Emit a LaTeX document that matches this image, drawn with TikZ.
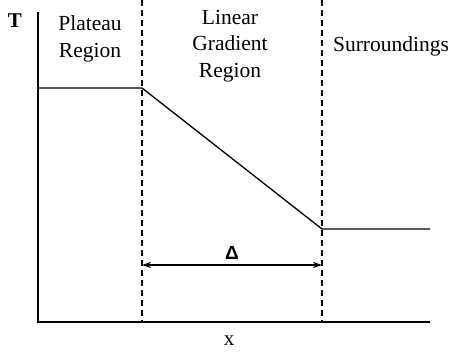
\documentclass[tikz,border=0pt]{standalone}
\usepackage{fontspec}
\setmainfont{Liberation Serif}
\newfontfamily\symfont{Liberation Sans}
\usetikzlibrary{arrows.meta}
\begin{document}
\begin{tikzpicture}[x=1pt,y=-1pt,
  lbl/.style={align=center,font=\fontsize{21.5}{26.5}\selectfont,inner sep=0pt},
  ln/.style={line width=1.3pt},
  dsh/.style={line width=1.3pt,dash pattern=on 6pt off 4pt}]
\useasboundingbox (0,0) rectangle (452,356);
\coordinate (top) at (38,12);
\coordinate (origin) at (38,322);
\coordinate (xend) at (430,322);
\coordinate (d1t) at (142,0);
\coordinate (d1b) at (142,322);
\coordinate (d2t) at (322,0);
\coordinate (d2b) at (322,322);
\coordinate (p0) at (38,88);
\coordinate (p1) at (142,88);
\coordinate (p2) at (322,229);
\coordinate (p3) at (430,229);
\coordinate (a1) at (142,265);
\coordinate (a2) at (322,265);
\draw[ln] (top) -- (origin) -- (xend);
\draw[dsh] (d1t) -- (d1b);
\draw[dsh] (d2t) -- (d2b);
\draw[ln] (p0) -- (p1) -- (p2) -- (p3);
\draw[ln,{Stealth[length=9pt,width=6pt]}-{Stealth[length=9pt,width=6pt]}] (a1) -- (a2);
\node[font=\fontsize{21}{24}\selectfont\bfseries,inner sep=0pt] (T) at (15,21) {T};
\node[font=\fontsize{21}{24}\selectfont,inner sep=0pt] (X) at (229,341) {x};
\node[font=\fontsize{19}{22}\selectfont\symfont\bfseries,inner sep=0pt] (D) at (232,253) {Δ};
\node[lbl] (plateau) at (90,39) {Plateau\\Region};
\node[lbl] (linear) at (230,46) {Linear\\Gradient\\Region};
\node[lbl] (surr) at (391,46) {Surroundings};
\end{tikzpicture}
\end{document}
